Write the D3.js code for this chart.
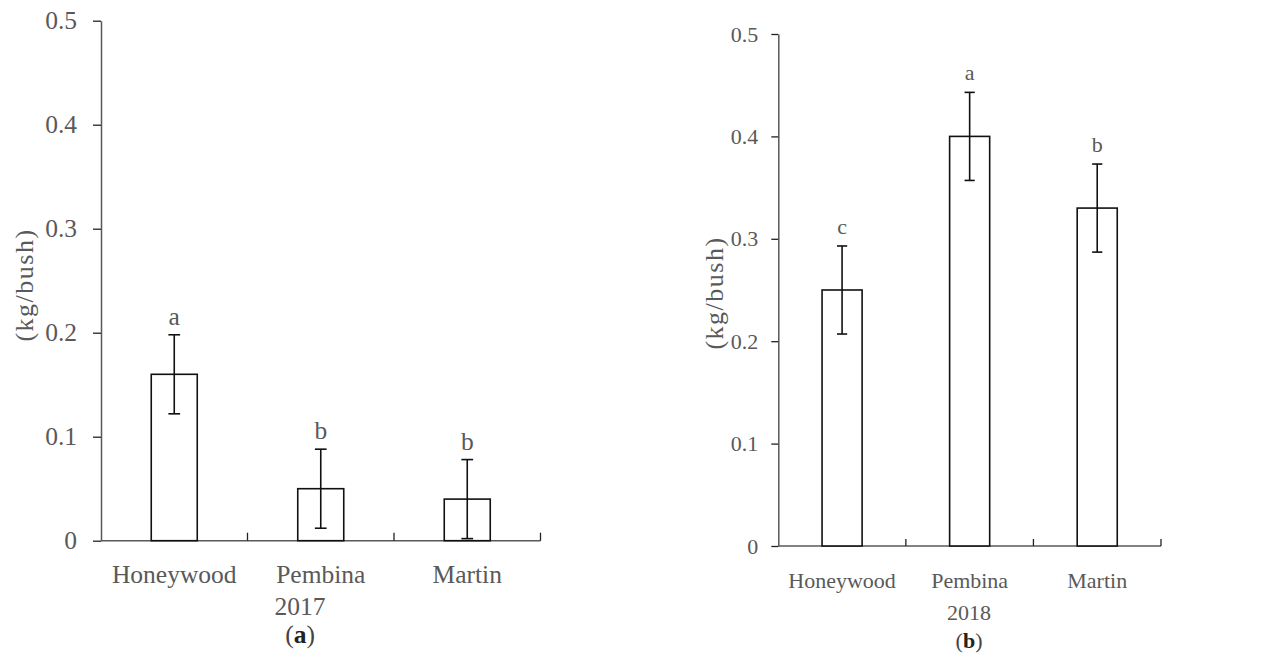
<!DOCTYPE html>
<html>
<head>
<meta charset="utf-8">
<script src="https://cdn.jsdelivr.net/npm/d3@7"></script>
<style>
  html, body { margin: 0; padding: 0; background: #fff; }
  svg { display: block; }
  text { font-family: "Liberation Serif", "Times New Roman", serif; }
</style>
</head>
<body>
<svg id="chart" width="1266" height="659"></svg>
<script>
// ---- data ----
const categories = ["Honeywood", "Pembina", "Martin"];
const yTicks = [0, 0.1, 0.2, 0.3, 0.4, 0.5];

const values2017 = [0.16, 0.05, 0.04];
const errors2017 = [0.038, 0.038, 0.038];
const letters2017 = ["a", "b", "b"];

const values2018 = [0.25, 0.40, 0.33];
const errors2018 = [0.043, 0.043, 0.043];
const letters2018 = ["c", "a", "b"];

const yearLabels = ["2017", "2018"];
const panelTags = ["a", "b"];
const yTitle = "(kg/bush)";

// ---- layout ----
const panels = [
  { values: values2017, errors: errors2017, letters: letters2017, year: yearLabels[0], tag: panelTags[0],
    x0: 101, x1: 540.5, yTop: 20.7, yBottom: 540.7, fs: 25.5, tickLen: 8, tickPad: 16,
    yearX: 300, yLabelX: 24, yLabelY: 285, letterGap: 10 },
  { values: values2018, errors: errors2018, letters: letters2018, year: yearLabels[1], tag: panelTags[1],
    x0: 778.3, x1: 1161, yTop: 34, yBottom: 546, fs: 22, tickLen: 7, tickPad: 13,
    yearX: 969, yLabelX: 714, yLabelY: 293, letterGap: 12 }
];

const svg = d3.select("#chart");
const textColor = "#595959";
const axisColor = "#595959";

panels.forEach(p => {
  const g = svg.append("g");
  const y = d3.scaleLinear().domain([0, 0.5]).range([p.yBottom, p.yTop]);
  const x = d3.scaleBand().domain(categories).range([p.x0, p.x1])
    .paddingInner(0.686).paddingOuter(0.343);
  const step = x.step();

  // y axis
  const yAxis = d3.axisLeft(y).tickValues(yTicks)
    .tickFormat(d => d === 0 ? "0" : d3.format(".1f")(d))
    .tickSizeInner(p.tickLen).tickSizeOuter(0).tickPadding(p.tickPad);
  const ya = g.append("g").attr("transform", `translate(${p.x0},0)`).call(yAxis);
  ya.select(".domain").attr("stroke", axisColor).attr("stroke-width", 1.5);
  ya.selectAll(".tick line").attr("stroke", "#222").attr("stroke-width", 1.3);
  ya.selectAll(".tick text").attr("fill", textColor).style("font-size", p.fs + "px")
    .style("font-family", "Liberation Serif, serif");

  // x axis baseline
  g.append("line")
    .attr("x1", p.x0).attr("x2", p.x1)
    .attr("y1", y(0)).attr("y2", y(0))
    .attr("stroke", axisColor).attr("stroke-width", 1.5);

  // category boundary ticks (inside, upward)
  const bounds = d3.range(1, categories.length + 1).map(i => p.x0 + i * step);
  g.selectAll(".ctick").data(bounds).join("line")
    .attr("x1", d => d).attr("x2", d => d)
    .attr("y1", y(0)).attr("y2", y(0) - p.tickLen)
    .attr("stroke", "#222").attr("stroke-width", 1.3);

  const data = categories.map((c, i) => ({ c, v: p.values[i], e: p.errors[i], l: p.letters[i] }));

  // bars
  g.selectAll(".bar").data(data).join("rect")
    .attr("x", d => x(d.c))
    .attr("y", d => y(d.v))
    .attr("width", x.bandwidth())
    .attr("height", d => y(0) - y(d.v))
    .attr("fill", "#fff").attr("stroke", "#111").attr("stroke-width", 1.6);

  // error bars
  const cap = step * 0.04;
  const eb = g.selectAll(".err").data(data).join("g");
  eb.append("line")
    .attr("x1", d => x(d.c) + x.bandwidth() / 2).attr("x2", d => x(d.c) + x.bandwidth() / 2)
    .attr("y1", d => y(d.v + d.e)).attr("y2", d => y(Math.max(0, d.v - d.e)))
    .attr("stroke", "#111").attr("stroke-width", 1.6);
  eb.append("line")
    .attr("x1", d => x(d.c) + x.bandwidth() / 2 - cap).attr("x2", d => x(d.c) + x.bandwidth() / 2 + cap)
    .attr("y1", d => y(d.v + d.e)).attr("y2", d => y(d.v + d.e))
    .attr("stroke", "#111").attr("stroke-width", 1.6);
  eb.append("line")
    .attr("x1", d => x(d.c) + x.bandwidth() / 2 - cap).attr("x2", d => x(d.c) + x.bandwidth() / 2 + cap)
    .attr("y1", d => y(Math.max(0, d.v - d.e))).attr("y2", d => y(Math.max(0, d.v - d.e)))
    .attr("stroke", "#111").attr("stroke-width", 1.6);

  // significance letters
  g.selectAll(".sig").data(data).join("text")
    .attr("x", d => x(d.c) + x.bandwidth() / 2)
    .attr("y", d => y(d.v + d.e) - p.letterGap)
    .attr("text-anchor", "middle")
    .attr("fill", textColor)
    .style("font-size", p.fs + "px")
    .text(d => d.l);

  // category labels
  g.selectAll(".cat").data(data).join("text")
    .attr("x", d => x(d.c) + x.bandwidth() / 2)
    .attr("y", y(0) + 42)
    .attr("text-anchor", "middle")
    .attr("fill", textColor)
    .style("font-size", p.fs + "px")
    .text(d => d.c);

  // year label
  g.append("text")
    .attr("x", p.yearX).attr("y", y(0) + 74)
    .attr("text-anchor", "middle")
    .attr("fill", textColor)
    .style("font-size", p.fs + "px")
    .text(p.year);

  // panel tag
  const tag = g.append("text")
    .attr("x", p.yearX).attr("y", y(0) + 102)
    .attr("text-anchor", "middle")
    .attr("fill", "#444")
    .style("font-size", p.fs + "px");
  tag.append("tspan").text("(");
  tag.append("tspan").attr("font-weight", "bold").attr("fill", "#222").text(p.tag);
  tag.append("tspan").text(")");

  // y title
  g.append("text")
    .attr("transform", `translate(${p.yLabelX},${p.yLabelY}) rotate(-90)`)
    .attr("text-anchor", "middle")
    .attr("dominant-baseline", "central")
    .attr("fill", textColor)
    .style("font-size", "26px")
    .style("letter-spacing", "1.5px")
    .text(yTitle);
});
</script>
</body>
</html>
